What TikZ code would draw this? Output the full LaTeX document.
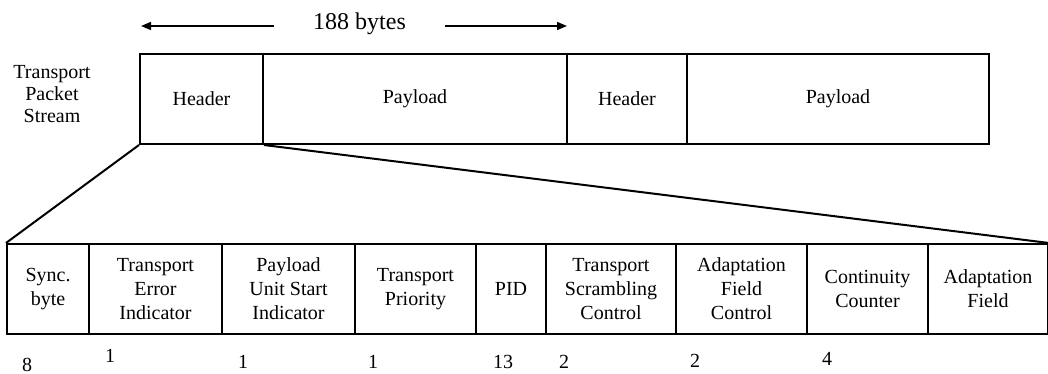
\documentclass[tikz,border=0pt]{standalone}
\usepackage{fontspec}
\setmainfont{Liberation Serif}
\usetikzlibrary{arrows.meta}

\tikzset{
  cell/.style={draw, line width=1pt, inner sep=0pt, minimum height=45pt,
    align=center, font=\fontsize{10}{12}\selectfont},
  bits/.style={inner sep=0pt, font=\fontsize{10}{12}\selectfont},
  dimarrow/.style={-{Triangle[length=5pt, width=4pt]}, line width=0.8pt},
}

\begin{document}
\begin{tikzpicture}[x=0.5pt, y=-0.5pt]
  \useasboundingbox (0,0) rectangle (1048,374);

  % Packet length
  \node[minimum width=85.5pt, inner sep=0pt, font=\fontsize{12}{14}\selectfont]
    (len) at (359.5,24) {188 bytes};
  \coordinate (arrL) at (141,26);
  \coordinate (arrR) at (567,26);
  \draw[dimarrow] (len.west |- arrL) -- (arrL);
  \draw[dimarrow] (len.east |- arrR) -- (arrR);

  % Packet stream
  \node[align=center, font=\fontsize{10}{11}\selectfont] (stream) at (52,94)
    {Transport\\Packet\\Stream};
  \node[cell, minimum width=61.5pt] (hdrA) at (201.5,99) {Header};
  \node[cell, minimum width=152pt]  (payA) at (415,99)   {Payload};
  \node[cell, minimum width=60pt]   (hdrB) at (627,99)   {Header};
  \node[cell, minimum width=151pt]  (payB) at (838,99)   {Payload};

  % Header fields
  \node[cell, minimum width=41pt]   (sync)  at (48,289)    {Sync.\\byte};
  \node[cell, minimum width=66.5pt] (tei)   at (155.5,289) {Transport\\Error\\Indicator};
  \node[cell, minimum width=66.5pt] (pusi)  at (288.5,289) {Payload\\Unit Start\\Indicator};
  \node[cell, minimum width=60.5pt] (prio)  at (415.5,289) {Transport\\Priority};
  \node[cell, minimum width=35pt]   (pid)   at (511,289)   {PID};
  \node[cell, minimum width=65pt]   (tsc)   at (611,289)   {Transport\\Scrambling\\Control};
  \node[cell, minimum width=65.5pt] (afc)   at (741.5,289) {Adaptation\\Field\\Control};
  \node[cell, minimum width=60.5pt] (cc)    at (867.5,289) {Continuity\\Counter};
  \node[cell, minimum width=60pt]   (field) at (988,289)   {Adaptation\\Field};

  % Zoom lines
  \draw[line width=1pt] (hdrA.south west) -- (sync.north west);
  \draw[line width=1pt] (hdrA.south east) -- (field.north east);

  % Field sizes
  \node[bits] (bSync) at (27,365)  {8};
  \node[bits] (bTei)  at (110,356) {1};
  \node[bits] (bPusi) at (243,362) {1};
  \node[bits] (bPrio) at (373,362) {1};
  \node[bits] (bPid)  at (503,362) {13};
  \node[bits] (bTsc)  at (564,362) {2};
  \node[bits] (bAfc)  at (695,361) {2};
  \node[bits] (bCc)   at (827,359) {4};
\end{tikzpicture}
\end{document}
